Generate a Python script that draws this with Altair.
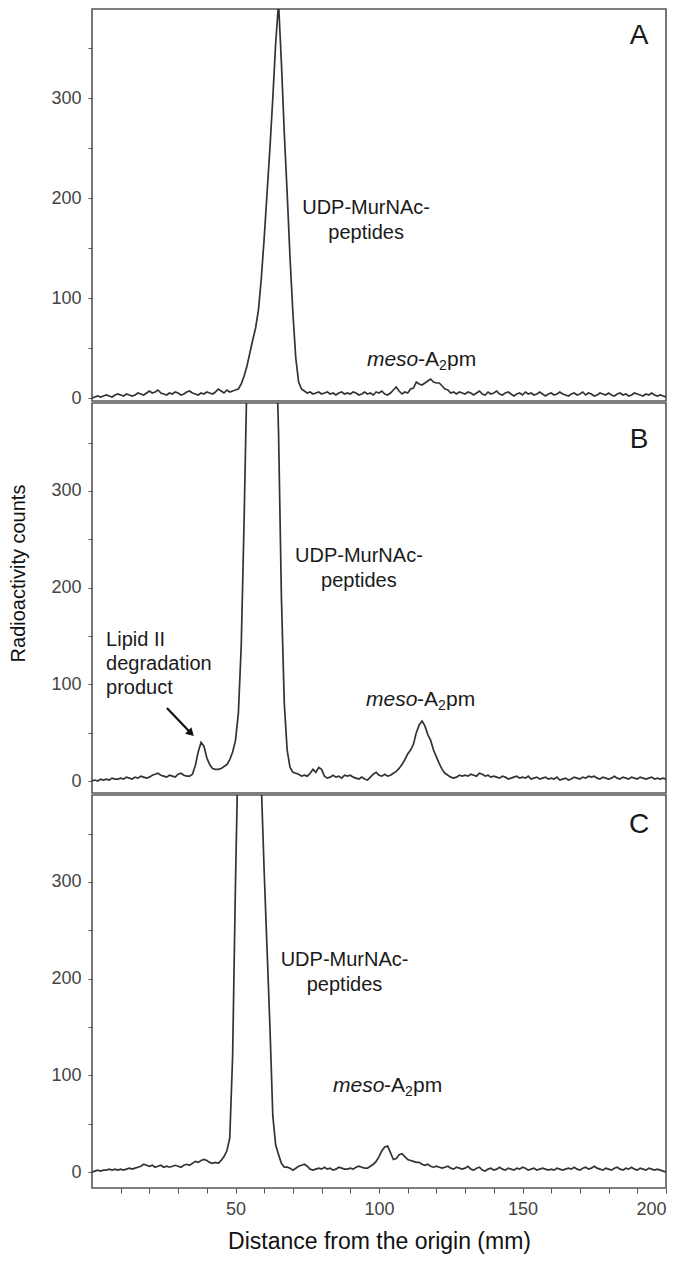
import altair as alt
import pandas as pd

FONT = "Liberation Sans"

# ---------------- data ----------------
distance_mm = list(range(0, 201))

counts_A = [
    0, 1, 2, 1, 2, 3, 2, 1, 3, 4,
    3, 2, 4, 3, 2, 3, 5, 4, 3, 5,
    7, 5, 6, 8, 5, 4, 3, 5, 4, 6,
    5, 3, 4, 6, 7, 5, 4, 3, 5, 4,
    6, 5, 4, 6, 9, 7, 5, 8, 6, 7,
    8, 9, 14, 22, 32, 45, 58, 70, 88, 120,
    160, 205, 250, 300, 355, 395, 335, 265, 205, 140,
    85, 40, 16, 9, 7, 5, 6, 4, 5, 6,
    4, 5, 6, 4, 5, 3, 5, 6, 4, 5,
    4, 6, 5, 3, 4, 6, 4, 5, 3, 6,
    5, 7, 4, 3, 5, 8, 11, 7, 4, 6,
    5, 9, 10, 16, 14, 13, 15, 17, 19, 16,
    15, 15, 12, 9, 8, 5, 6, 4, 6, 5,
    4, 6, 5, 3, 5, 7, 4, 3, 6, 4,
    5, 7, 4, 3, 5, 6, 4, 2, 4, 5,
    3, 6, 4, 5, 3, 4, 6, 4, 2, 4,
    5, 3, 4, 6, 4, 3, 2, 4, 5, 3,
    4, 6, 3, 5, 4, 2, 3, 5, 4, 3,
    5, 3, 2, 4, 5, 3, 4, 2, 3, 5,
    4, 3, 2, 4, 3, 5, 3, 2, 3, 2,
    1,
]

counts_B = [
    0, 1, 0, 2, 1, 2, 1, 3, 2, 2,
    3, 2, 4, 3, 2, 4, 3, 5, 4, 3,
    4, 6, 7, 8, 6, 5, 4, 6, 5, 4,
    7, 8, 6, 5, 5, 7, 16, 30, 40, 36,
    24, 17, 13, 12, 12, 13, 15, 17, 22, 30,
    42, 70, 140, 270, 420, 600, 600, 600, 600, 600,
    600, 600, 600, 600, 470, 360, 190, 80, 32, 14,
    9, 8, 7, 5, 6, 5, 8, 12, 9, 14,
    12, 5, 3, 4, 6, 4, 5, 3, 6, 5,
    6, 4, 3, 2, 4, 2, 1, 4, 7, 9,
    6, 5, 7, 5, 6, 8, 10, 13, 17, 22,
    28, 32, 38, 50, 58, 62, 57, 48, 42, 32,
    25, 18, 12, 8, 6, 4, 3, 4, 6, 5,
    6, 5, 7, 6, 5, 8, 7, 5, 6, 4,
    5, 4, 3, 5, 4, 2, 3, 4, 5, 3,
    4, 3, 5, 2, 3, 4, 2, 3, 4, 2,
    3, 2, 4, 1, 2, 3, 1, 2, 4, 3,
    2, 4, 3, 5, 4, 5, 3, 2, 4, 3,
    2, 3, 5, 3, 2, 4, 3, 2, 4, 3,
    2, 4, 3, 2, 3, 4, 2, 3, 2, 3,
    2,
]

counts_C = [
    0, 1, 2, 1, 2, 2, 3, 2, 3, 2,
    3, 2, 3, 4, 3, 4, 5, 6, 8, 7,
    6, 7, 5, 6, 7, 5, 6, 5, 6, 7,
    6, 5, 7, 8, 7, 9, 11, 10, 12, 13,
    12, 10, 9, 10, 9, 12, 16, 22, 35, 120,
    300, 450, 600, 600, 600, 600, 600, 600, 600, 400,
    310, 230, 150, 58, 28, 18, 9, 5, 5, 4,
    2, 4, 6, 7, 8, 6, 3, 2, 3, 4,
    3, 5, 3, 4, 2, 3, 5, 4, 3, 3,
    4, 3, 5, 6, 5, 4, 4, 6, 8, 11,
    16, 22, 26, 27, 20, 13, 14, 18, 19, 16,
    13, 12, 11, 10, 10, 8, 7, 8, 6, 5,
    6, 5, 4, 5, 6, 4, 3, 5, 4, 3,
    4, 6, 3, 2, 4, 5, 2, 1, 3, 4,
    2, 3, 5, 3, 2, 4, 3, 2, 4, 3,
    5, 4, 2, 3, 4, 2, 3, 4, 3, 2,
    3, 2, 4, 3, 2, 3, 4, 3, 5, 3,
    2, 4, 5, 3, 4, 6, 4, 3, 2, 4,
    3, 2, 4, 5, 3, 2, 4, 3, 5, 3,
    2, 4, 3, 2, 4, 3, 2, 3, 2, 1,
    0,
]

x_ticks = list(range(10, 201, 10))
y_ticks = list(range(0, 351, 50))

panel_names = ["A", "B", "C"]
panel_counts = [counts_A, counts_B, counts_C]
y_domains = [[-3, 389], [-12.4, 390.9], [-16.5, 389.9]]
panel_heights = [392, 390, 393]

letter_x = [190.6, 190.6, 190.6]
letter_y = [362, 353, 359]

udp_text = ["UDP-MurNAc-", "peptides"]
udp_x = [95.5, 93.0, 88.0]
udp_y_line1 = [190, 233, 219]
udp_y_line2 = [165, 207, 193]

meso_x = [95.8, 95.5, 84.0]
meso_y = [38, 84, 89]

lipid_text = ["Lipid II", "degradation", "product"]
lipid_x = [4.9, 4.9, 4.9]
lipid_y = [146, 121, 96]

arrow_tail = [26.1, 75.5]
arrow_head = [34.5, 49.4]

TXT = "#1a1a1a"


def make_panel(i):
    name = panel_names[i]
    show_x = name == "C"
    xs = alt.Scale(domain=[0, 200], nice=False, zero=False)
    ys = alt.Scale(domain=y_domains[i], nice=False, zero=False)
    if show_x:
        xenc = alt.X(
            "x:Q", scale=xs, title="Distance from the origin (mm)",
            axis=alt.Axis(values=x_ticks,
                          labelExpr="datum.value % 50 == 0 ? datum.label : ''",
                          labelFlush=True, tickSize=5, labelPadding=7,
                          labelFontSize=18, titleFontSize=23, titlePadding=12,
                          grid=False, domain=False))
    else:
        xenc = alt.X("x:Q", scale=xs, axis=None)
    if name == "B":
        yaxis = alt.Axis(values=y_ticks,
                         labelExpr="datum.value % 100 == 0 ? datum.label : ''",
                         tickSize=4, labelPadding=7, labelFontSize=18,
                         titleFontSize=20, titlePadding=22, titleY=170,
                         grid=False, domain=False)
        yenc = alt.Y("y:Q", scale=ys, axis=yaxis, title="Radioactivity counts")
    else:
        yaxis = alt.Axis(values=y_ticks,
                         labelExpr="datum.value % 100 == 0 ? datum.label : ''",
                         tickSize=4, labelPadding=7, labelFontSize=18,
                         grid=False, domain=False)
        yenc = alt.Y("y:Q", scale=ys, axis=yaxis, title=None)

    df = pd.DataFrame({"x": distance_mm, "y": panel_counts[i]})
    line = alt.Chart(df).mark_line(clip=True, color="#333333", strokeWidth=1.7).encode(x=xenc, y=yenc)

    layers = [line]

    letter_df = pd.DataFrame({"x": [letter_x[i]], "y": [letter_y[i]], "t": [name]})
    layers.append(alt.Chart(letter_df).mark_text(
        fontSize=28, font=FONT, color=TXT, align="center", baseline="middle"
    ).encode(x=xenc, y=yenc, text="t:N"))

    udp_df = pd.DataFrame({"x": [udp_x[i], udp_x[i]],
                           "y": [udp_y_line1[i], udp_y_line2[i]],
                           "t": udp_text})
    layers.append(alt.Chart(udp_df).mark_text(
        fontSize=20, font=FONT, color=TXT, align="center", baseline="middle"
    ).encode(x=xenc, y=yenc, text="t:N"))

    meso_df = pd.DataFrame({"x": [meso_x[i]], "y": [meso_y[i]]})
    parts = [("meso", 0, 0, 21, "italic"), ("-A", 51, 0, 21, "normal"),
             ("2", 72, 6, 14, "normal"), ("pm", 80, 0, 21, "normal")]
    for txt, dx, dy, fs, style in parts:
        layers.append(alt.Chart(meso_df).mark_text(
            fontSize=fs, font=FONT, color=TXT, align="left", baseline="middle",
            dx=dx, dy=dy, fontStyle=style
        ).encode(x=xenc, y=yenc, text=alt.value(txt)))

    if name == "B":
        lip_df = pd.DataFrame({"x": lipid_x, "y": lipid_y, "t": lipid_text})
        layers.append(alt.Chart(lip_df).mark_text(
            fontSize=20, font=FONT, color=TXT, align="left", baseline="middle"
        ).encode(x=xenc, y=yenc, text="t:N"))
        arr_df = pd.DataFrame({"x": [arrow_tail[0]], "y": [arrow_tail[1]],
                               "x2": [arrow_head[0]], "y2": [arrow_head[1]]})
        layers.append(alt.Chart(arr_df).mark_rule(color="#111111", strokeWidth=2.2).encode(
            x=xenc, y=yenc, x2="x2:Q", y2="y2:Q"))
        head_df = pd.DataFrame({"x": [arrow_head[0]], "y": [arrow_head[1]]})
        layers.append(alt.Chart(head_df).mark_point(
            shape="triangle-up", filled=True, color="#111111", opacity=1,
            angle=135, size=80
        ).encode(x=xenc, y=yenc))

    return alt.layer(*layers).properties(width=574, height=panel_heights[i])


chart = alt.vconcat(make_panel(0), make_panel(1), make_panel(2),
                    spacing=2, bounds="flush").properties(
    padding={"left": 0, "top": 0, "right": 5, "bottom": 5}
).configure_view(
    stroke="#555555", strokeWidth=1.6
).configure_axis(
    labelFont=FONT, titleFont=FONT, labelColor="#444444", titleColor="#111111",
    tickColor="#555555", titleFontWeight="normal"
)

chart.save("out.html", embed_options={"renderer": "svg", "actions": False})
